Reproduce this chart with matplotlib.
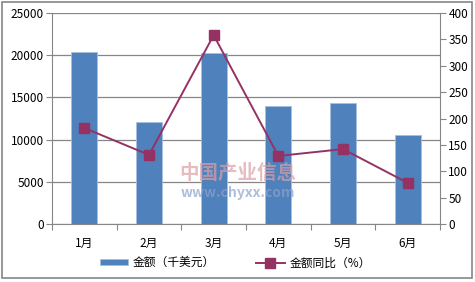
import matplotlib.pyplot as plt
import numpy as np
from matplotlib.patches import Rectangle

plt.rcParams['font.family'] = ['Noto Sans CJK SC', 'DejaVu Sans']

months = ['1月', '2月', '3月', '4月', '5月', '6月']
amount = [20400, 12100, 20300, 14000, 14300, 10500]   # 千美元
yoy = [182, 131, 358, 129, 142, 78]                  # %

bar_color = '#4F81BD'
line_color = '#953264'
grid_color = '#868686'

fig = plt.figure(figsize=(4.75, 2.82), dpi=100)
ax = fig.add_axes([52 / 475, 1 - 224 / 282, 388 / 475, 211 / 282])
ax2 = ax.twinx()

x = np.arange(len(months))
ax.bar(x, amount, width=0.4, color=bar_color, edgecolor='#A7BFDE', linewidth=0.6,
       zorder=2, label='金额（千美元）')
ax2.plot(x, yoy, color=line_color, lw=1.4, marker='s', ms=6.5, zorder=3,
         label='金额同比（%）')

ax.set_xlim(-0.5, len(months) - 0.5)
ax.set_ylim(0, 25000)
ax2.set_ylim(0, 400)
ax.set_yticks(range(0, 25001, 5000))
ax2.set_yticks(range(0, 401, 50))
ax.yaxis.grid(True, color=grid_color, lw=0.9, zorder=0)
ax.set_axisbelow(True)

# category ticks between groups
ax.set_xticks(np.arange(-0.5, len(months), 1))
ax.set_xticklabels([])
ax.set_xticks(x, minor=True)
ax.set_xticklabels(months, minor=True)
ax.tick_params(axis='x', which='major', length=4, color=grid_color, direction='out')
ax.tick_params(axis='x', which='minor', length=0, pad=9, labelsize=8.5)
ax.tick_params(axis='y', length=4, color=grid_color, labelsize=8.5, pad=2)
ax2.tick_params(axis='y', length=4, color=grid_color, labelsize=8.5, pad=2)

for a in (ax, ax2):
    a.spines['top'].set_visible(False)
    for s in ('left', 'right', 'bottom'):
        a.spines[s].set_color(grid_color)
ax.spines['right'].set_visible(False)
ax2.spines['left'].set_visible(False)
ax2.spines['bottom'].set_visible(False)

# watermark
fig.text(0.5, 0.385, '中国产业信息', fontsize=14, color='#D9A0A8', alpha=0.7,
         ha='center', va='center', fontweight='bold', zorder=5)
fig.text(0.5, 0.315, 'www.chyxx.com', fontsize=10, color='#8CA2CC', alpha=0.7,
         ha='center', va='center', fontweight='bold', zorder=5)

h1, l1 = ax.get_legend_handles_labels()
h2, l2 = ax2.get_legend_handles_labels()
fig.legend(h1 + h2, l1 + l2, loc='center', bbox_to_anchor=(0.495, 0.068), ncol=2,
           frameon=False, fontsize=8.5, handlelength=2.4, handleheight=0.5,
           columnspacing=3.5, handletextpad=0.4)

fig.patches.append(Rectangle((2 / 475, 4 / 282), 470 / 475, 276 / 282,
                             transform=fig.transFigure, fill=False,
                             edgecolor=grid_color, lw=1.2))

fig.savefig('out.png', dpi=100)
